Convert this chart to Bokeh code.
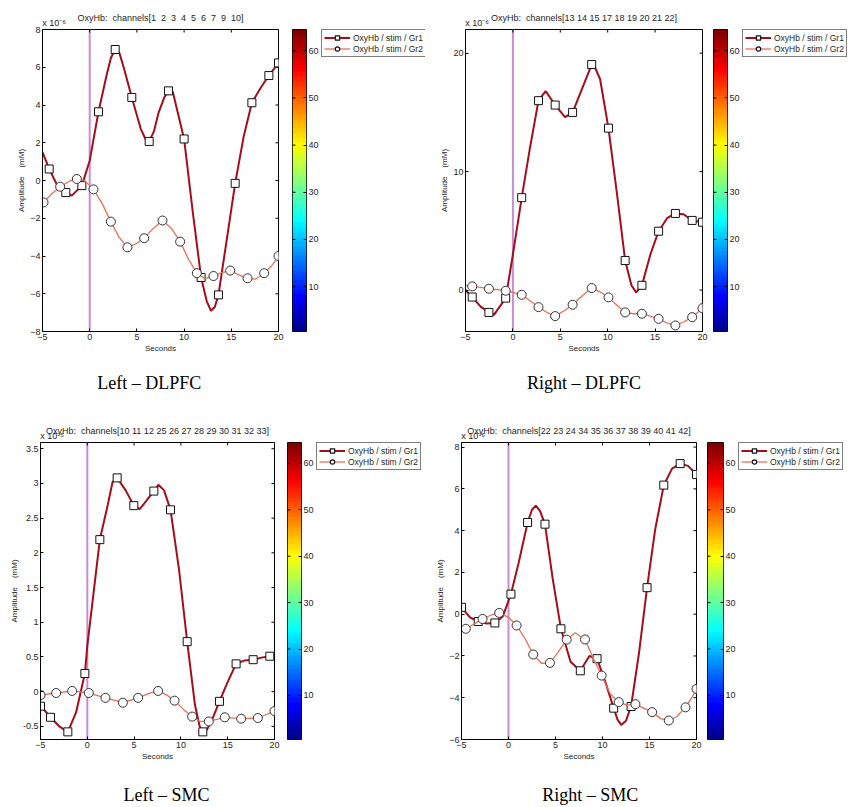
import numpy as np
from bokeh.plotting import figure
from bokeh.models import (Range1d, LinearAxis, FixedTicker, Span, Legend, LegendItem,
                          NumeralTickFormatter, CustomJSTickFormatter, LinearColorMapper)
from bokeh.layouts import row, column
from bokeh.embed import file_html
from bokeh.resources import INLINE

# ---------------- data (values x 10^-6 / 10^-5 as printed on the axes) ----------------
# Left - DLPFC
ldl_gr1_t = [-4.29, -2.53, -0.83, 0.93, 2.70, 4.46, 6.30, 8.35, 10.0, 11.8, 13.64, 15.41, 17.18, 18.98, 20.0]
ldl_gr1_v = [0.61, -0.64, -0.27, 3.64, 6.94, 4.40, 2.07, 4.75, 2.20, -5.14, -6.06, -0.15, 4.12, 5.56, 6.23]
ldl_gr1_curve_t = [-5, -4.29, -3.4, -2.53, -1.9, -0.83, 0.0, 0.93, 1.8, 2.25, 2.70, 3.15, 3.6, 4.46, 5.4, 5.9,
                   6.30, 6.8, 7.3, 7.9, 8.35, 8.8, 10.0, 10.9, 11.8, 12.4, 12.85, 13.25, 13.64, 14.5, 15.41,
                   16.3, 17.18, 18.1, 18.98, 20.0]
ldl_gr1_curve_v = [1.5, 0.61, -0.3, -0.64, -0.8, -0.27, 1.05, 3.64, 5.6, 6.5, 6.94, 6.75, 6.0, 4.40, 2.75, 2.2,
                   2.07, 2.6, 3.6, 4.4, 4.75, 4.7, 2.20, -1.6, -5.14, -6.4, -6.9, -6.7, -6.06, -3.2, -0.15,
                   2.3, 4.12, 4.9, 5.56, 6.23]
ldl_gr2_t = [-4.89, -3.13, -1.36, 0.40, 2.24, 4.00, 5.77, 7.71, 9.58, 11.35, 13.11, 14.88, 16.72, 18.48, 20.0]
ldl_gr2_v = [-1.16, -0.33, 0.08, -0.47, -2.18, -3.54, -3.06, -2.12, -3.24, -4.91, -5.06, -4.77, -5.18, -4.91, -4.00]
ldl_gr2_curve_t = [-5, -4.89, -4.0, -3.13, -2.2, -1.36, -0.5, 0.40, 1.3, 2.24, 3.1, 4.00, 4.9, 5.77, 6.7, 7.71,
                   8.6, 9.58, 10.5, 11.35, 12.2, 13.11, 14.0, 14.88, 15.8, 16.72, 17.6, 18.48, 19.3, 20.0]
ldl_gr2_curve_v = [-1.2, -1.16, -0.7, -0.33, -0.05, 0.08, -0.02, -0.47, -1.2, -2.18, -3.0, -3.54, -3.35, -3.06,
                   -2.55, -2.12, -2.5, -3.24, -4.2, -4.91, -5.2, -5.06, -4.88, -4.77, -5.0, -5.18, -5.22, -4.91,
                   -4.5, -4.0]

# Right - DLPFC
rdl_gr1_t = [-4.29, -2.53, -0.76, 0.93, 2.70, 4.46, 6.30, 8.31, 10.08, 11.84, 13.61, 15.37, 17.14, 18.91, 20.0]
rdl_gr1_v = [-0.59, -1.89, -0.68, 7.80, 15.99, 15.62, 15.0, 19.04, 13.67, 2.49, 0.40, 4.97, 6.47, 5.88, 5.73]
rdl_gr1_curve_t = [-5, -4.29, -3.4, -2.53, -2.0, -0.76, 0.0, 0.93, 1.8, 2.70, 3.45, 4.46, 5.5, 6.30, 7.3, 8.31,
                   8.5, 9.2, 10.08, 11.0, 11.84, 12.5, 13.0, 13.61, 14.5, 15.37, 16.3, 17.14, 18.0, 18.91, 20.0]
rdl_gr1_curve_v = [0.0, -0.59, -1.4, -1.89, -2.1, -0.68, 3.0, 7.80, 12.0, 15.99, 16.8, 15.62, 14.6, 15.0, 17.0,
                   19.04, 19.1, 17.8, 13.67, 8.0, 2.49, 0.4, -0.2, 0.40, 3.0, 4.97, 6.1, 6.47, 6.4, 5.88, 5.73]
rdl_gr2_t = rdl_gr1_t
rdl_gr2_v = [0.31, 0.11, -0.06, -0.40, -1.44, -2.20, -1.24, 0.17, -0.62, -1.89, -2.00, -2.43, -2.99, -2.29, -1.53]
rdl_gr2_curve_t = [-5, -4.29, -3.4, -2.53, -1.6, -0.76, 0.0, 0.93, 1.8, 2.70, 3.6, 4.46, 5.4, 6.30, 7.3, 8.31,
                   9.2, 10.08, 11.0, 11.84, 12.7, 13.61, 14.5, 15.37, 16.3, 17.14, 18.0, 18.91, 20.0]
rdl_gr2_curve_v = [0.4, 0.31, 0.22, 0.11, 0.03, -0.06, -0.2, -0.40, -0.9, -1.44, -1.9, -2.20, -1.75, -1.24, -0.5,
                   0.17, -0.15, -0.62, -1.3, -1.89, -2.0, -2.00, -2.2, -2.43, -2.8, -2.99, -2.7, -2.29, -1.53]

# Left - SMC
lsm_gr1_t = [-5.0, -3.93, -2.08, -0.26, 1.34, 3.19, 4.97, 7.11, 8.89, 10.67, 12.34, 14.12, 15.90, 17.72, 19.50]
lsm_gr1_v = [-0.21, -0.37, -0.58, 0.26, 2.19, 3.08, 2.68, 2.89, 2.62, 0.72, -0.58, -0.14, 0.40, 0.46, 0.51]
lsm_gr1_curve_t = [-5, -3.93, -3.0, -2.08, -1.2, -0.26, 0.0, 0.5, 1.34, 2.2, 2.7, 3.19, 4.1, 4.97, 5.6, 6.3,
                   7.11, 7.6, 8.2, 8.89, 9.8, 10.67, 11.5, 12.0, 12.5, 13.2, 14.12, 15.0, 15.90, 16.8, 17.72,
                   18.6, 19.5, 20.0]
lsm_gr1_curve_v = [-0.2, -0.37, -0.5, -0.58, -0.3, 0.26, 0.66, 1.23, 2.19, 2.7, 3.02, 3.08, 2.9, 2.68, 2.63, 2.75,
                   2.89, 2.98, 2.9, 2.62, 1.76, 0.72, -0.19, -0.5, -0.61, -0.45, -0.14, 0.14, 0.40, 0.45, 0.46,
                   0.49, 0.51, 0.53]
lsm_gr2_t = [-5.0, -3.33, -1.62, 0.16, 1.94, 3.80, 5.43, 7.57, 9.32, 11.20, 12.98, 14.69, 16.44, 18.22, 20.0]
lsm_gr2_v = [-0.05, -0.02, 0.01, -0.02, -0.09, -0.16, -0.09, 0.01, -0.13, -0.36, -0.43, -0.37, -0.39, -0.38, -0.28]
lsm_gr2_curve_t = [-5, -3.33, -1.62, 0.16, 1.94, 3.80, 5.43, 6.5, 7.57, 8.5, 9.32, 10.3, 11.20, 12.1, 12.98,
                   14.69, 16.44, 18.22, 20.0]
lsm_gr2_curve_v = [-0.05, -0.02, 0.01, -0.02, -0.09, -0.16, -0.09, -0.03, 0.01, -0.05, -0.13, -0.26, -0.36,
                   -0.43, -0.43, -0.37, -0.39, -0.38, -0.28]

# Right - SMC
rsm_gr1_t = [-5.0, -3.22, -1.45, 0.26, 2.03, 3.88, 5.58, 7.64, 9.42, 11.19, 13.04, 14.74, 16.52, 18.26, 20.0]
rsm_gr1_v = [0.33, -0.35, -0.42, 0.96, 4.39, 4.31, -0.70, -2.71, -2.13, -4.50, -4.42, 1.27, 6.18, 7.21, 6.69]
rsm_gr1_curve_t = [-5, -4.1, -3.22, -2.3, -1.45, -0.6, 0.26, 1.1, 2.03, 2.5, 2.9, 3.35, 3.88, 4.7, 5.58, 6.6,
                   7.64, 8.6, 9.42, 10.3, 11.19, 11.6, 12.0, 12.5, 13.04, 13.9, 14.74, 15.6, 16.52, 17.4, 18.26,
                   19.1, 20.0]
rsm_gr1_curve_v = [0.33, -0.15, -0.35, -0.45, -0.42, -0.1, 0.96, 2.5, 4.39, 5.0, 5.2, 4.95, 4.31, 1.7, -0.70,
                   -2.28, -2.71, -2.0, -2.13, -3.24, -4.50, -5.05, -5.3, -5.1, -4.42, -1.8, 1.27, 4.05, 6.18,
                   6.97, 7.21, 7.1, 6.69]
rsm_gr2_t = [-4.54, -2.76, -0.99, 0.86, 2.63, 4.41, 6.19, 8.14, 9.91, 11.73, 13.50, 15.28, 17.05, 18.83, 20.0]
rsm_gr2_v = [-0.70, -0.23, 0.06, -0.54, -1.93, -2.33, -1.22, -1.21, -2.94, -4.21, -4.31, -4.69, -5.09, -4.46, -3.58]
rsm_gr2_curve_t = [-5, -4.54, -3.6, -2.76, -1.9, -0.99, 0.0, 0.86, 1.8, 2.63, 3.5, 4.41, 5.3, 6.19, 7.1, 8.14,
                   9.0, 9.91, 10.8, 11.73, 12.6, 13.50, 14.4, 15.28, 16.2, 17.05, 17.9, 18.83, 19.5, 20.0]
rsm_gr2_curve_v = [-0.8, -0.70, -0.45, -0.23, -0.05, 0.06, -0.15, -0.54, -1.2, -1.93, -2.35, -2.33, -1.8, -1.22,
                   -0.89, -1.21, -2.1, -2.94, -3.8, -4.21, -4.35, -4.31, -4.5, -4.69, -5.0, -5.09, -4.9, -4.46,
                   -4.0, -3.58]

x_ticks = [-5, 0, 5, 10, 15, 20]
ldl_y_ticks = [-8, -6, -4, -2, 0, 2, 4, 6, 8]
rdl_y_ticks = [0, 10, 20]
lsm_y_ticks = [-0.5, 0, 0.5, 1, 1.5, 2, 2.5, 3, 3.5]
rsm_y_ticks = [-6, -4, -2, 0, 2, 4, 6, 8]
cbar_ticks = [10, 20, 30, 40, 50, 60]
cbar_levels = list(range(1, 65))

ldl_channels = ["1", "2", "3", "4", "5", "6", "7", "9", "10"]
rdl_channels = ["13", "14", "15", "17", "18", "19", "20", "21", "22"]
lsm_channels = ["10", "11", "12", "25", "26", "27", "28", "29", "30", "31", "32", "33"]
rsm_channels = ["22", "23", "24", "34", "35", "36", "37", "38", "39", "40", "41", "42"]

legend_labels = ["OxyHb / stim / Gr1", "OxyHb / stim / Gr2"]
NB = "\u00a0"


def channel_title(chs, gap):
    return "OxyHb:" + NB * 2 + "channels[" + (NB * gap).join(chs) + "]"


titles = {
    "ldl": channel_title(ldl_channels, 2),
    "rdl": channel_title(rdl_channels, 1),
    "lsm": channel_title(lsm_channels, 1),
    "rsm": channel_title(rsm_channels, 1),
}
captions = {"ldl": "Left \u2013 DLPFC", "rdl": "Right \u2013 DLPFC", "lsm": "Left \u2013 SMC", "rsm": "Right \u2013 SMC"}
exponents = {"ldl": "x 10\u207b\u2076", "rdl": "x 10\u207b\u2076", "lsm": "x 10\u207b\u2075", "rsm": "x 10\u207b\u2076"}

# ---------------- style ----------------
FONT = "Liberation Sans"
SERIF = "Liberation Serif"
TXT = "#262626"
GR1_COLOR = "#a50d1c"
GR2_COLOR = "#e8705a"
VLINE = "#c98bd6"
TICK = 3


def jet(n=64):
    out = []
    for i in range(n):
        x = (i + 1) / n
        r = min(max(1.5 - abs(4 * x - 3), 0), 1)
        g = min(max(1.5 - abs(4 * x - 2), 0), 1)
        b = min(max(1.5 - abs(4 * x - 1), 0), 1)
        out.append("#%02x%02x%02x" % (int(round(r * 255)), int(round(g * 255)), int(round(b * 255))))
    return out


JET = jet(64)


def axis(ticks, label=None, fmt=None):
    ax = LinearAxis(ticker=FixedTicker(ticks=ticks), major_tick_in=TICK, major_tick_out=0,
                    minor_tick_line_color=None, axis_line_color="black", major_tick_line_color="black",
                    major_label_text_font=FONT, major_label_text_color=TXT,
                    major_label_text_font_size="9px", major_label_standoff=2)
    if fmt is not None:
        ax.formatter = fmt
    if label:
        ax.axis_label = label
        ax.axis_label_text_font = FONT
        ax.axis_label_text_font_size = "8px"
        ax.axis_label_text_font_style = "normal"
        ax.axis_label_text_color = TXT
        ax.axis_label_standoff = 1
    return ax


def main_panel(key, W, H, bl, br, bt, bb, fw, yr, yticks, g1, g2, cap_pad, cap_standoff, fmt=None):
    p = figure(width=W, height=H, x_range=Range1d(-5, 20), y_range=Range1d(*yr),
               x_axis_type=None, y_axis_type=None, output_backend="svg", toolbar_location=None,
               min_border_left=bl, min_border_right=br, min_border_top=bt, min_border_bottom=bb)
    p.grid.visible = False
    p.outline_line_color = "black"
    p.outline_line_alpha = 1
    p.background_fill_color = "white"
    p.border_fill_color = "white"
    p.add_layout(axis(x_ticks, "Seconds"), "below")
    p.add_layout(axis(yticks, "Amplitude" + NB * 4 + "(mM)", fmt), "left")

    # caption: label of a bare second axis under the x axis
    # (cap_pad > 0 shifts the caption right, < 0 shifts it left, in non-breaking spaces)
    cap_text = (NB * cap_pad + captions[key]) if cap_pad >= 0 else (captions[key] + NB * (-cap_pad))
    cap = LinearAxis(ticker=FixedTicker(ticks=[]), axis_line_color=None, major_tick_line_color=None,
                     minor_tick_line_color=None, major_tick_in=0, major_tick_out=0, major_label_standoff=0,
                     axis_label=cap_text, axis_label_text_font=SERIF, axis_label_text_font_size="18px",
                     axis_label_text_font_style="normal", axis_label_text_color="black",
                     axis_label_standoff=cap_standoff)
    p.add_layout(cap, "below")

    # top axis: carries the exponent as its only tick label and the title as its axis label
    exp_tick = -5 + 11.5 * 25.0 / fw
    top = LinearAxis(ticker=FixedTicker(ticks=[exp_tick]),
                     formatter=CustomJSTickFormatter(code="return %r" % exponents[key]),
                     major_tick_line_color=None, minor_tick_line_color=None, axis_line_color=None,
                     major_tick_in=0, major_tick_out=0, major_label_standoff=2,
                     major_label_text_font=FONT, major_label_text_font_size="9px", major_label_text_color=TXT,
                     axis_label=titles[key], axis_label_text_font=FONT, axis_label_text_font_size="9px",
                     axis_label_text_font_style="normal", axis_label_text_color=TXT, axis_label_standoff=-8)
    p.add_layout(top, "above")

    # inward tick marks on the top and right edges of the box
    p.ray(x=x_ticks, y=yr[1], length=TICK, length_units="screen", angle=-np.pi / 2, line_color="black",
          line_width=1)
    p.ray(x=20, y=yticks, length=TICK, length_units="screen", angle=np.pi, line_color="black", line_width=1)

    p.add_layout(Span(location=0, dimension="height", line_color=VLINE, line_width=2, level="underlay"))

    (t1, v1, ct1, cv1), (t2, v2, ct2, cv2) = g1, g2
    p.line(ct1, cv1, line_color=GR1_COLOR, line_width=2)
    p.scatter(t1, v1, marker="square", size=8, fill_color="white", line_color="#111111", line_width=1)
    p.line(ct2, cv2, line_color=GR2_COLOR, line_width=1.3)
    p.scatter(t2, v2, marker="circle", size=9, fill_color="white", line_color="#333333", line_width=1)
    return p


def cbar_panel(W, H, fw, bt, bb):
    c = figure(width=W, height=H, x_range=Range1d(0, 1), y_range=Range1d(0.5, 64.5),
               x_axis_type=None, y_axis_type=None, output_backend="svg", toolbar_location=None,
               min_border_left=0, min_border_right=W - fw, min_border_top=bt, min_border_bottom=bb)
    c.grid.visible = False
    c.outline_line_color = "black"
    mapper = LinearColorMapper(palette=JET, low=1, high=64)
    img = np.array(cbar_levels, dtype=float).reshape(len(cbar_levels), 1)
    c.image(image=[img], x=0, y=0.5, dw=1, dh=len(cbar_levels), color_mapper=mapper)
    c.ray(x=0, y=cbar_ticks, length=TICK, length_units="screen", angle=0, line_color="black", line_width=1)
    ax = axis(cbar_ticks)
    ax.axis_line_color = None
    c.add_layout(ax, "right")
    return c


def legend_panel(W, H, bt):
    f = figure(width=W, height=H, x_range=Range1d(0, 1), y_range=Range1d(0, 1),
               x_axis_type=None, y_axis_type=None, output_backend="svg", toolbar_location=None,
               min_border_left=0, min_border_right=0, min_border_top=bt, min_border_bottom=0)
    f.grid.visible = False
    f.outline_line_color = None
    # off-range stand-ins: only their legend swatches are seen
    l1 = f.line(x=[5, 6], y=[5, 6], line_color=GR1_COLOR, line_width=2)
    s1 = f.scatter(x=[5], y=[5], marker="square", size=7, fill_color="white", line_color="#111111", line_width=1.2)
    l2 = f.line(x=[5, 6], y=[5, 6], line_color=GR2_COLOR, line_width=1.3)
    s2 = f.scatter(x=[5], y=[5], marker="circle", size=7, fill_color="white", line_color="#111111", line_width=1.2)
    leg = Legend(items=[LegendItem(label=legend_labels[0], renderers=[l1, s1]),
                        LegendItem(label=legend_labels[1], renderers=[l2, s2])],
                 location="top_left", margin=0, padding=2, spacing=0, glyph_width=26, glyph_height=11,
                 label_height=11, label_standoff=3, label_text_font=FONT, label_text_font_size="8.5px",
                 label_text_color=TXT, border_line_color="black", border_line_width=1,
                 background_fill_color="white", background_fill_alpha=1)
    f.add_layout(leg)
    return f


H1, H2 = 412, 395

p1 = main_panel("ldl", 292, H1, 42, 14, 29, H1 - 29 - 303, 236, (-8, 8), ldl_y_ticks,
                (ldl_gr1_t, ldl_gr1_v, ldl_gr1_curve_t, ldl_gr1_curve_v),
                (ldl_gr2_t, ldl_gr2_v, ldl_gr2_curve_t, ldl_gr2_curve_v), -5, 17)
c1 = cbar_panel(29, H1, 16, 29, H1 - 29 - 303)
g1 = legend_panel(104, H1, 29)

p2 = main_panel("rdl", 288, H1, 40, 11, 29, H1 - 29 - 302, 237, (-3.5, 22), rdl_y_ticks,
                (rdl_gr1_t, rdl_gr1_v, rdl_gr1_curve_t, rdl_gr1_curve_v),
                (rdl_gr2_t, rdl_gr2_v, rdl_gr2_curve_t, rdl_gr2_curve_v), 0, 17)
c2 = cbar_panel(29, H1, 17, 29, H1 - 29 - 302)
g2 = legend_panel(108, H1, 29)

p3 = main_panel("lsm", 287, H2, 40, 13, 29, H2 - 29 - 301, 234, (-0.69, 3.59), lsm_y_ticks,
                (lsm_gr1_t, lsm_gr1_v, lsm_gr1_curve_t, lsm_gr1_curve_v),
                (lsm_gr2_t, lsm_gr2_v, lsm_gr2_curve_t, lsm_gr2_curve_v), 4, 21,
                fmt=NumeralTickFormatter(format="0.[0]"))
c3 = cbar_panel(29, H2, 16, 29, H2 - 29 - 301)
g3 = legend_panel(109, H2, 29)

p4 = main_panel("rsm", 282, H2, 36, 11, 30, H2 - 30 - 300, 235, (-6, 8.22), rsm_y_ticks,
                (rsm_gr1_t, rsm_gr1_v, rsm_gr1_curve_t, rsm_gr1_curve_v),
                (rsm_gr2_t, rsm_gr2_v, rsm_gr2_curve_t, rsm_gr2_curve_v), 5, 21)
c4 = cbar_panel(31, H2, 16, 30, H2 - 30 - 300)
g4 = legend_panel(112, H2, 30)

layout = column(row(p1, c1, g1, p2, c2, g2), row(p3, c3, g3, p4, c4, g4))

open("out.html", "w").write(file_html(layout, INLINE))
